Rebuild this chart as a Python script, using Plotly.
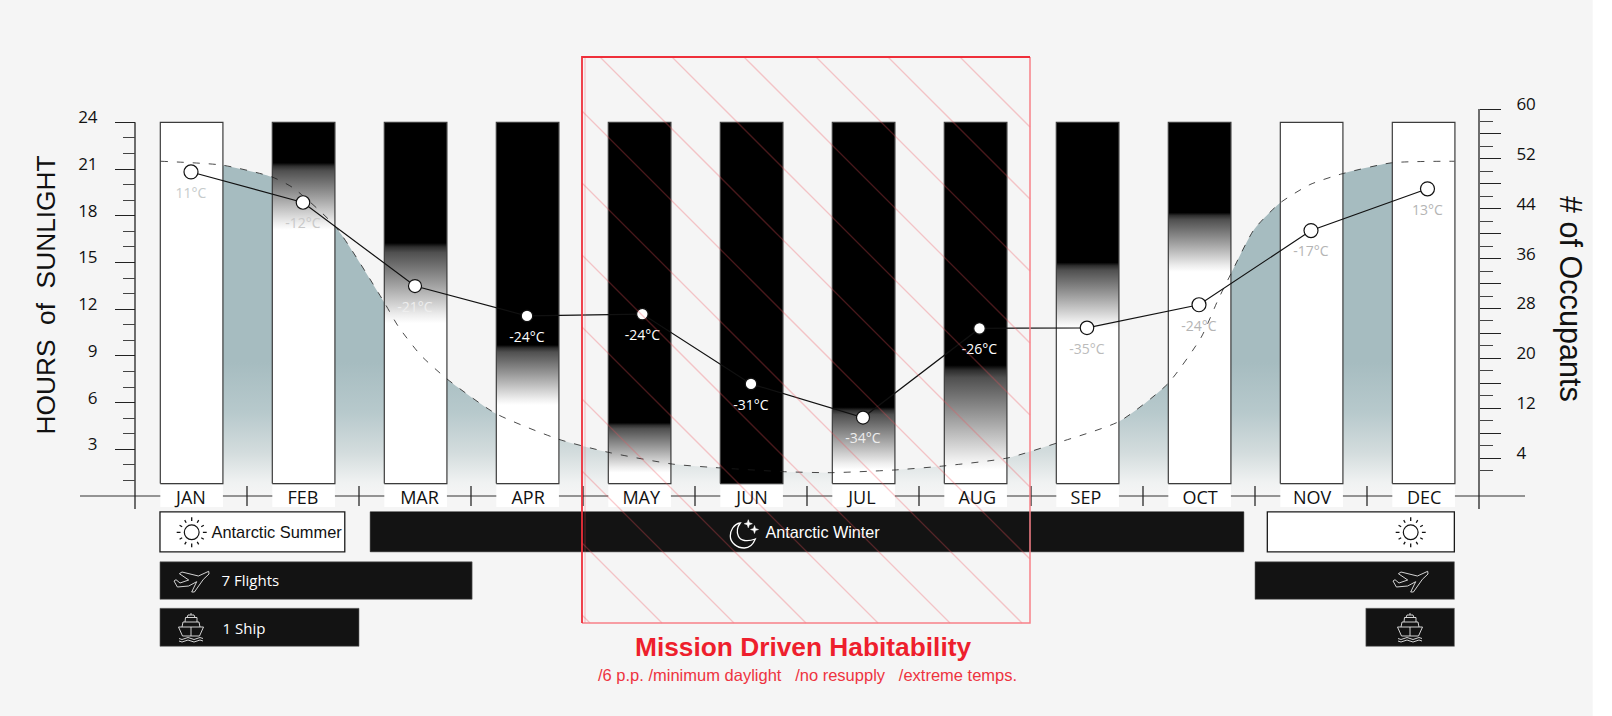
import math
import plotly.graph_objects as go

# ---------- data ----------
months = ["JAN","FEB","MAR","APR","MAY","JUN","JUL","AUG","SEP","OCT","NOV","DEC"]
month_label_pos = [0.50,1.50,2.54,3.51,4.52,5.51,6.49,7.52,8.49,9.51,10.51,11.51]
# hours at which each daylight bar is fully black / fully white (bars span 0.8-24 h)
black_until = [24,21.4,16.25,9.7,4.7,0.8,5.7,8.4,15.0,18.2,24,24]
white_from  = [24,17.1,11.1,5.85,1.5,0.8,1.7,1.7,10.8,14.4,24,24]
bar_bottom = 0.8
bar_top = 24
# sunlight curve
curve_months = [0.23,0.78,1.22,1.41,1.79,2.22,2.35,2.55,2.78,3.22,3.78,4.23,4.80,5.23,5.80,6.22,6.78,7.22,7.79,8.23,8.79,9.22,9.52,9.67,9.78,9.99,10.22,10.49,10.78,11.22,11.78]
curve_hours  = [21.5,21.25,20.5,19.8,17.3,12.5,10.9,9.05,7.55,5.3,3.65,2.8,2.05,1.8,1.56,1.5,1.67,1.93,2.44,3.4,4.8,7.2,10.2,12.6,14.2,17.1,18.8,20.0,20.7,21.4,21.5]
# occupants / temperature
occ_months = [0.50,1.50,2.50,3.50,4.53,5.50,6.50,7.54,8.50,9.50,10.50,11.54]
occupants  = [49.9,45.0,31.6,26.8,27.1,15.9,10.5,24.8,24.9,28.6,40.5,47.2]
temp_labels = ["11°C","-12°C","-21°C","-24°C","-24°C","-31°C","-34°C","-26°C","-35°C","-24°C","-17°C","13°C"]
temp_colors = ["#c6cbcb","#c8c8c8","#eeeeee","#ffffff","#ffffff","#ffffff","#eeeeee","#ffffff","#bbbbbb","#b4b4b4","#b4b4b4","#b4b4b4"]
# timeline rows: start and end month
summer_start = [0.223,10.11]; summer_end = [1.873,11.78]
winter_start = [2.10]; winter_end = [9.90]
flights_start = [0.223,10.0]; flights_end = [3.01,11.78]
ship_start = [0.223,10.99]; ship_end = [2.0,11.78]
left_ticks = [3,6,9,12,15,18,21,24]
right_ticks = [4,12,20,28,36,44,52,60]

# ---------- mapping helpers for the page layout ----------
W, H = 1612, 716
BG = "#f5f5f5"
def hx(px): return (px-135)/112
def hy(py): return (496-py)/15.57
def oy(py): return (483-py)/6.233

fig = go.Figure()

def line(xs, ys, color="#333", width=1.2, yaxis="y", dash=None):
    fig.add_trace(go.Scatter(x=xs, y=ys, mode="lines", yaxis=yaxis, hoverinfo="skip",
                             line=dict(color=color, width=width, dash=dash), showlegend=False))

# teal daylight area with fade towards the bottom
fig.add_trace(go.Scatter(x=curve_months, y=curve_hours, mode="none", fill="tozeroy", hoverinfo="skip",
    line=dict(shape="spline", smoothing=0.6), showlegend=False,
    fillgradient=dict(type="vertical", start=0, stop=21.5,
        colorscale=[[0,BG],[0.04,"#f0f2f2"],[0.13,"#d3dcdd"],[0.25,"#b7c9cc"],[0.40,"#a6bcc0"],[1,"#a6bcc0"]])))

# baseline, month separators and the vertical axis lines
line([hx(80),hx(1525)],[0,0])
for k in range(1,12):
    line([k,k],[hy(506),hy(486)],color="#2a2a2a",width=1.3)
line([0,0],[hy(509),24],color="#222",width=1.3)
line([12,12],[hy(509),hy(109)],color="#222",width=1.3)

# month bars
def ramp(b,w):
    span = bar_top-bar_bottom
    f = lambda h:(h-bar_bottom)/span
    steps = [(0,"#ffffff"),(0.1,"#eeeeee"),(0.5,"#9c9c9c"),(0.88,"#505050"),(0.95,"#2e2e2e"),(1,"#000000")]
    cs = [[0,"#ffffff"]] if w>bar_bottom+1e-6 else []
    for t,c in steps:
        cs.append([f(w+t*(b-w)),c])
    cs.append([1,"#000000"])
    return cs
for i,m in enumerate(months):
    l, r = i+0.226, i+0.785
    xs=[l,r,r,l,l]; ys=[bar_bottom,bar_bottom,bar_top,bar_top,bar_bottom]
    b, w = black_until[i], white_from[i]
    tr = dict(x=xs,y=ys,mode="lines",fill="toself",hoverinfo="skip",showlegend=False,
              line=dict(color="#3c3c3c",width=1.2))
    if b>=bar_top: tr["fillcolor"]="#ffffff"
    elif b<=bar_bottom: tr["fillcolor"]="#000000"
    else: tr["fillgradient"]=dict(type="vertical",start=bar_bottom,stop=bar_top,colorscale=ramp(b,w))
    fig.add_trace(go.Scatter(**tr))
    # white label plate
    fig.add_trace(go.Scatter(x=xs,y=[hy(507),hy(507),hy(485),hy(485),hy(507)],mode="none",fill="toself",
                             fillcolor="#ffffff",hoverinfo="skip",showlegend=False))

# dashed daylight line
fig.add_trace(go.Scatter(x=curve_months,y=curve_hours,mode="lines",hoverinfo="skip",showlegend=False,
    line=dict(color="#1c1c1c",width=0.8,dash="7px,9px",shape="spline",smoothing=0.6)))

# timeline bars
def timeline(starts,ends,py_top,py_bot,fill,edge,w):
    fig.add_trace(go.Bar(orientation="h",base=starts,x=[e-s for s,e in zip(starts,ends)],
        y=[hy((py_top+py_bot)/2)]*len(starts),width=(py_bot-py_top)/15.57,
        marker=dict(color=fill,line=dict(color=edge,width=w)),hoverinfo="skip",showlegend=False))
timeline(summer_start,summer_end,511.8,551.8,"#ffffff","#1a1a1a",1.3)
timeline(winter_start,winter_end,511.8,551.8,"#131313","#131313",0.5)
timeline(flights_start,flights_end,561.8,599.3,"#131313","#666666",0.6)
timeline(ship_start,ship_end,608.3,646.3,"#131313","#666666",0.6)

# timeline texts
def label(px,py,t,color,size,family="Liberation Sans",pos="middle right"):
    fig.add_trace(go.Scatter(x=[hx(px)],y=[hy(py)],mode="text",text=[t],textposition=pos,hoverinfo="skip",
        showlegend=False,textfont=dict(color=color,size=size,family=family)))
label(211.5,533.5,"Antarctic Summer","#111111",16.4)
label(765.5,534,"Antarctic Winter","#ffffff",16.2)
label(221.5,582,"7 Flights","#ffffff",15,"Open Sans")
label(222.5,630,"1 Ship","#ffffff",15,"Open Sans")

# occupants line with temperature labels (on the right axis)
marker_sizes = [14,13.5,13,11.5,11.5,11.5,13,11.5,13.5,14,14,14]
fig.add_trace(go.Scatter(x=occ_months,y=occupants,yaxis="y2",mode="lines+markers",hoverinfo="skip",showlegend=False,
    line=dict(color="#111111",width=1.2),
    marker=dict(size=marker_sizes,opacity=1,color="#ffffff",line=dict(color="#111111",width=1.2))))
fig.add_trace(go.Scatter(x=occ_months,y=occupants,yaxis="y2",mode="markers+text",text=temp_labels,
    textposition="bottom center",hoverinfo="skip",showlegend=False,
    marker=dict(size=23,opacity=0),textfont=dict(size=14,family="Open Sans",color=temp_colors)))

# mission-driven habitability hatch (drawn on top)
X0,X1,Y0,Y1 = 582,1030,57,623
hatch_x=[]; hatch_y=[]
c = 543-72*9
while c < X1-Y0:
    xa = X0; ya = X0-c
    if ya < Y0: ya = Y0; xa = Y0+c
    yb = Y1; xb = Y1+c
    if xb > X1: xb = X1; yb = X1-c
    if ya < Y1 and xa < X1:
        hatch_x += [hx(xa),hx(xb),None]; hatch_y += [oy(ya),oy(yb),None]
    c += 72
fig.add_trace(go.Scatter(x=hatch_x,y=hatch_y,yaxis="y2",mode="lines",hoverinfo="skip",showlegend=False,
                         connectgaps=False,line=dict(color="rgba(240,80,90,0.3)",width=1.3)))
line([hx(585),hx(585)],[oy(Y0),oy(Y1)],color="rgba(240,70,80,0.35)",width=1,yaxis="y2")
line([hx(X1),hx(X1),hx(X0)],[oy(Y0),oy(Y1),oy(Y1)],color="#f78088",width=1.5,yaxis="y2")
line([hx(X0),hx(X0),hx(X1)],[oy(Y1),oy(Y0),oy(Y0)],color="#ef2f3a",width=1.8,yaxis="y2")

# icons, outlined with pixel-sized shapes anchored on the axes
shapes=[]
def icon(path,px,py,color="#ffffff",w=1.0,fill="rgba(0,0,0,0)"):
    shapes.append(dict(type="path",path=path,xref="x",yref="y",xsizemode="pixel",ysizemode="pixel",
        xanchor=hx(px),yanchor=hy(py),line=dict(color=color,width=w),fillcolor=fill,layer="above"))
k=0.5523
def circle(r):
    q=r*k
    return (f"M{r},0 C{r},{q} {q},{r} 0,{r} C{-q},{r} {-r},{q} {-r},0 C{-r},{-q} {-q},{-r} 0,{-r} C{q},{-r} {r},{-q} {r},0 Z")
def sun(px,py):
    icon(circle(7.4),px,py,"#111111",1.2)
    rays=""
    for a in range(0,360,30):
        ca,sa=math.cos(math.radians(a)),math.sin(math.radians(a))
        r0,r1=(11.2,15) if a%90==0 else (11,14)
        rays+=f"M{r0*ca:.2f},{r0*sa:.2f} L{r1*ca:.2f},{r1*sa:.2f} "
    icon(rays,px,py,"#111111",1.3)
PLANE=[(146,33),(115,47),(66,35),(58,40),(86,59),(60,68),(48,58),(42,62),(52,80),(86,77),(110,64),(95,95),(103,95),(130,57),(147,41)]
def plane(px,py):
    pts=[((zx-95)/3,-(zy-62)/3) for zx,zy in PLANE]
    icon("M"+" L".join(f"{x:.1f},{y:.1f}" for x,y in pts)+" Z",px,py,"#e8e8e8",0.9)
def ship(px,py):
    d=("M-12.5,1 L-8.5,-8 L8.5,-8 L12.5,1 Z "
       "M-9,1 L-8,6 L8,6 L9,1 "
       "M-6,6 L-5.5,10.5 L6,10.5 L6,6 "
       "M-4,10.5 L-3,13 L3,13 L4,10.5 "
       "M0,13 L0,15 "
       "M0,1 L0,-8 "
       "M-12,-10.5 Q-9,-12.5 -6,-10.5 Q-3,-8.5 0,-10.5 Q3,-12.5 6,-10.5 Q9,-8.5 12,-10.5 "
       "M-12,-13 Q-9,-15 -6,-13 Q-3,-11 0,-13 Q3,-15 6,-13 Q9,-11 12,-13 ")
    icon(d,px,py,"#e8e8e8",0.9)
sun(191.7,532.3); sun(1410.7,532.3)
plane(191.7,581); plane(1410.7,581)
ship(191,628); ship(1410,628)
icon("M-3,12 C-10,11 -13,4 -13,-1 C-13,-8 -6,-13 1,-13 C6,-13 10,-9 12,-4 C4,-7 -3,-6 -5,-1 C-7,4 -6,8 -3,12 Z",743.3,535,"#ffffff",1.3)
STAR="M0,4 L1,1 L4,0 L1,-1 L0,-4 L-1,-1 L-4,0 L-1,1 Z"
icon(STAR,748.3,523.7,"#ffffff",0.6,"#ffffff")
icon(STAR,754.5,529.5,"#ffffff",0.5,"#ffffff")

ann=[
 dict(text="HOURS  of  SUNLIGHT",x=45.5/W,y=1-295/H,textangle=-90,font=dict(size=26.3,family="Liberation Sans",color="#111111")),
 dict(text="# of Occupants",x=1570/W,y=1-299/H,textangle=90,font=dict(size=30.6,family="Liberation Sans",color="#111111")),
 dict(text="<b>Mission Driven Habitability</b>",x=803/W,y=1-646.5/H,font=dict(size=26.3,family="Liberation Sans",color="#ee1f2d")),
 dict(text="/6 p.p. /minimum daylight   /no resupply   /extreme temps.",x=808/W,y=1-675/H,font=dict(size=16.5,family="Liberation Sans",color="#ee3340")),
]
for a in ann:
    a.update(xref="paper",yref="paper",showarrow=False,xanchor="center",yanchor="middle")

fig.update_layout(
    width=W,height=H,margin=dict(l=0,r=0,t=0,b=0),autosize=False,
    paper_bgcolor="#ffffff",plot_bgcolor=BG,barmode="overlay",showlegend=False,
    shapes=shapes,annotations=ann,
    xaxis=dict(domain=[0,1592.7/W],range=[hx(0),hx(1592.7)],anchor="free",position=1-485/H,
        tickmode="array",tickvals=month_label_pos,ticktext=months,ticks="",showgrid=False,zeroline=False,showline=False,
        tickfont=dict(size=18,family="Open Sans",color="#111111"),ticklabelstandoff=0),
    yaxis=dict(domain=[0,1],range=[hy(H),hy(0)],anchor="free",position=135/W,side="left",
        tickmode="array",tickvals=left_ticks,ticktext=[str(v) for v in left_ticks],
        ticks="outside",ticklen=20,tickwidth=1.3,tickcolor="#222222",showgrid=False,zeroline=False,showline=False,
        minor=dict(tickmode="array",tickvals=[v for v in range(1,24) if v%3],ticks="outside",ticklen=12,tickwidth=1,tickcolor="#444444",showgrid=False),
        tickfont=dict(size=17,family="Open Sans",color="#111111"),ticklabelstandoff=14,ticklabelshift=-5),
    yaxis2=dict(overlaying="y",range=[oy(H),oy(0)],anchor="free",position=1479/W,side="right",
        tickmode="array",tickvals=list(range(4,61,4)),ticktext=[str(v) if v in right_ticks else "" for v in range(4,61,4)],
        ticks="outside",ticklen=21,tickwidth=1.3,tickcolor="#222222",showgrid=False,zeroline=False,showline=False,
        minor=dict(tickmode="array",tickvals=list(range(2,60,4)),ticks="outside",ticklen=13,tickwidth=1,tickcolor="#444444",showgrid=False),
        tickfont=dict(size=17,family="Open Sans",color="#111111"),ticklabelstandoff=12,ticklabelshift=-5),
)
fig.write_html("out.html",config={"displayModeBar":False},
               post_script="document.body.style.margin='0';document.documentElement.style.overflow='hidden';")
